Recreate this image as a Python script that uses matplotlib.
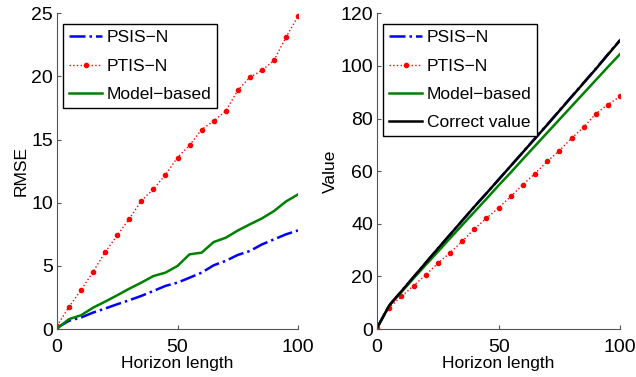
import numpy as np
import matplotlib.pyplot as plt

plt.rcParams['font.family'] = ['Liberation Sans', 'DejaVu Sans']

horizon = [0, 5, 10, 15, 20, 25, 30, 35, 40, 45, 50, 55, 60, 65, 70, 75, 80, 85, 90, 95, 100]

# RMSE (left panel)
rmse_psis = [0.1, 0.66, 0.92, 1.31, 1.63, 1.97, 2.29, 2.63, 3.02, 3.42, 3.68, 4.07, 4.47, 5.05,
             5.4, 5.87, 6.18, 6.7, 7.1, 7.5, 7.81]
rmse_ptis = [0.26, 1.76, 3.1, 4.55, 6.1, 7.42, 8.73, 10.15, 11.08, 12.21, 13.58, 14.55, 15.79,
             16.47, 17.26, 18.9, 19.92, 20.47, 21.26, 23.1, 24.76]
rmse_model = [0.05, 0.79, 1.1, 1.7, 2.18, 2.68, 3.2, 3.68, 4.2, 4.47, 5.0, 5.92, 6.05, 6.89,
              7.23, 7.8, 8.29, 8.76, 9.34, 10.1, 10.66]

# Value (right panel)
val_psis = [0.5, 9.1, 14.4, 19.8, 25.2, 30.6, 35.9, 41.2, 46.5, 51.6, 56.8, 62.0, 67.2, 72.5,
            77.7, 83.0, 88.3, 93.6, 98.9, 104.4, 109.8]
val_ptis = [0.6, 8.2, 12.4, 16.5, 20.6, 25.0, 29.0, 33.3, 38.1, 42.1, 46.1, 50.4, 54.9, 59.1,
            63.7, 67.8, 72.5, 76.7, 81.8, 85.3, 88.4]
val_model = [0.5, 9.0, 14.1, 19.3, 24.4, 29.4, 34.5, 39.5, 44.5, 49.5, 54.6, 59.5, 64.6, 69.6,
             74.6, 79.6, 84.6, 89.6, 94.6, 99.6, 104.5]
val_correct = [0.5, 9.0, 14.4, 19.8, 25.2, 30.6, 35.9, 41.2, 46.5, 51.6, 56.8, 62.0, 67.2, 72.4,
               77.6, 82.9, 88.2, 93.5, 98.8, 104.3, 109.7]

dark_green = (0, 0.5, 0)

fig = plt.figure(figsize=(6.36, 3.77), dpi=100)
ax1 = fig.add_axes([0.0896, 0.127, 0.379, 0.838])
ax2 = fig.add_axes([0.593, 0.127, 0.382, 0.838])

ax1.plot(horizon, rmse_psis, color='blue', ls='-.', lw=1.8, label='PSIS\u2212N')
ax1.plot(horizon, rmse_ptis, color='red', ls=':', lw=1.0, marker='.', ms=6, label='PTIS\u2212N')
ax1.plot(horizon, rmse_model, color=dark_green, ls='-', lw=1.8, label='Model\u2212based')
ax1.set_ylim(0, 25)
ax1.set_yticks([0, 5, 10, 15, 20, 25])
ax1.set_ylabel('RMSE', fontsize=12.5, labelpad=2)

ax2.plot(horizon, val_psis, color='blue', ls='-.', lw=1.8, label='PSIS\u2212N')
ax2.plot(horizon, val_ptis, color='red', ls=':', lw=1.0, marker='.', ms=6, label='PTIS\u2212N')
ax2.plot(horizon, val_model, color=dark_green, ls='-', lw=1.8, label='Model\u2212based')
ax2.plot(horizon, val_correct, color='black', ls='-', lw=1.8, label='Correct value')
ax2.set_ylim(0, 120)
ax2.set_yticks([0, 20, 40, 60, 80, 100, 120])
ax2.set_ylabel('Value', fontsize=12.5, labelpad=2)

for ax in (ax1, ax2):
    ax.set_xlim(0, 100)
    ax.set_xticks([0, 50, 100])
    ax.set_xlabel('Horizon length', fontsize=12.5, labelpad=0)
    ax.spines['top'].set_visible(False)
    ax.spines['right'].set_visible(False)
    ax.spines['left'].set_color('#555555')
    ax.spines['bottom'].set_color('#555555')
    ax.tick_params(direction='in', length=3, labelsize=14, color='#555555')
    ax.tick_params(axis='y', pad=3)
    ax.tick_params(axis='x', pad=7)
    leg = ax.legend(loc='upper left', bbox_to_anchor=(0.025, 0.965), fontsize=12.5,
                    fancybox=False, framealpha=1, edgecolor='black', handlelength=1.9,
                    borderpad=0.35, labelspacing=0.75, handletextpad=0.25, borderaxespad=0)
    leg.get_frame().set_linewidth(1.0)

plt.savefig('out.png', dpi=100)
